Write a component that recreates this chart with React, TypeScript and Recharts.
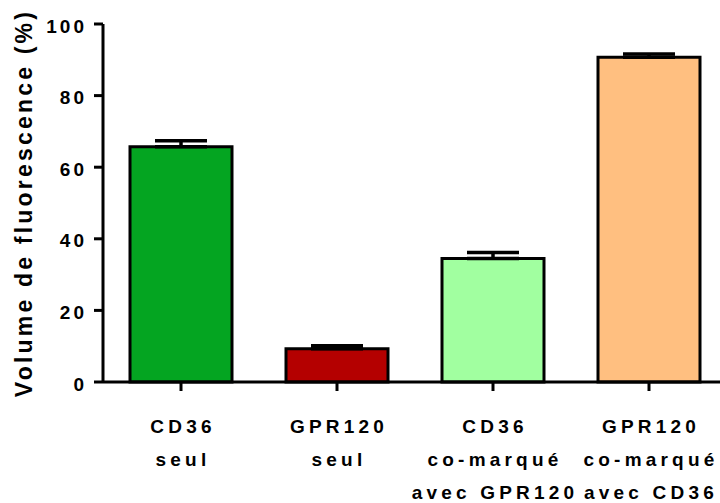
import React from 'react';
import { BarChart, Bar, XAxis, YAxis, ErrorBar, Cell } from 'recharts';

const categories = ['CD36 seul', 'GPR120 seul', 'CD36 co-marqué avec GPR120', 'GPR120 co-marqué avec CD36'];
const labelLines = [
  ['CD36', 'seul'],
  ['GPR120', 'seul'],
  ['CD36', 'co-marqué', 'avec GPR120'],
  ['GPR120', 'co-marqué', 'avec CD36'],
];
const means = [65.7, 9.3, 34.5, 90.7];
const sems = [1.7, 0.8, 1.7, 0.9];
const barColors = ['#04A521', '#B40000', '#A1FFA0', '#FFBF80'];
const yTicks = [0, 20, 40, 60, 80, 100];

const data = categories.map((name, i) => ({ name, mean: means[i], err: [0, sems[i]] }));

const FONT = '"Liberation Sans", Arial, sans-serif';

const XTick = (props: any) => {
  const { x, y, payload } = props;
  const lines = labelLines[categories.indexOf(payload.value)] || [payload.value];
  return (
    <text x={x + 2} y={y + 40} textAnchor="middle" fontFamily={FONT} fontWeight={700}
      fontSize={19} letterSpacing={4.2} fill="#000">
      {lines.map((l, i) => (
        <tspan key={i} x={x + 2} dy={i === 0 ? 0 : 33}>{l}</tspan>
      ))}
    </text>
  );
};

const YTick = (props: any) => {
  const { x, y, payload } = props;
  return (
    <text x={x - 5} y={y + 8.5} textAnchor="end" fontFamily={FONT} fontWeight={700}
      fontSize={19} letterSpacing={3} fill="#000">
      {payload.value}
    </text>
  );
};

const YLabel = () => (
  <text x={32} y={203} transform="rotate(-90, 32, 203)" textAnchor="middle" fontFamily={FONT}
    fontWeight={700} fontSize={23} letterSpacing={3.2} fill="#000">
    Volume de fluorescence (%)
  </text>
);

export default function App() {
  return (
    <div style={{ position: 'absolute', left: 0, top: 0, width: 720, height: 503, overflow: 'hidden', background: '#fff' }}>
      <BarChart width={727} height={503} data={data} margin={{ top: 24, right: 0, bottom: 0, left: 0 }}
        barCategoryGap={0}>
        <XAxis dataKey="name" height={121} interval={0} tick={<XTick />}
          axisLine={{ stroke: '#000', strokeWidth: 3 }}
          tickLine={{ stroke: '#000', strokeWidth: 3 }} tickSize={9} />
        <YAxis domain={[0, 100]} ticks={yTicks} width={103} tick={<YTick />}
          axisLine={{ stroke: '#000', strokeWidth: 3 }}
          tickLine={{ stroke: '#000', strokeWidth: 3 }} tickSize={9}
          label={{ content: () => <YLabel /> }} />
        <Bar dataKey="mean" barSize={102} stroke="#000" strokeWidth={3} isAnimationActive={false}>
          {data.map((_, i) => (
            <Cell key={i} fill={barColors[i]} />
          ))}
          <ErrorBar dataKey="err" width={26} stroke="#000" strokeWidth={3.5} direction="y" />
        </Bar>
      </BarChart>
    </div>
  );
}
